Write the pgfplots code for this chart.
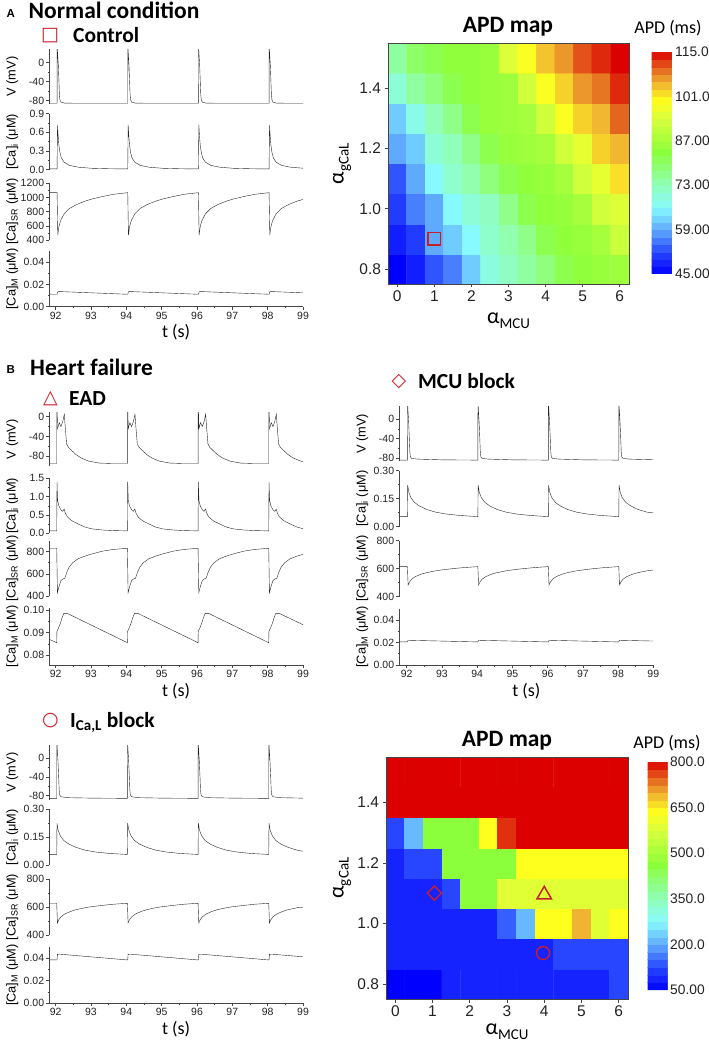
\documentclass[border=0pt]{standalone}
\usepackage{pgfplots}
\pgfplotsset{compat=1.18}
\usepackage{fontspec}
\setmainfont{Liberation Sans}
\newfontfamily\carl{Carlito}
\newfontfamily\dejavu{DejaVu Sans}
\definecolor{mk}{RGB}{200,30,40}
\definecolor{ax}{RGB}{70,70,70}
\definecolor{tk}{RGB}{35,35,35}
\newcommand\tickf{\fontsize{10.5}{12}\selectfont}
\newcommand\labf{\fontsize{12.8}{15}\selectfont}
\newcommand\mapf{\fontsize{15.5}{17}\selectfont}
\newcommand\cbf{\fontsize{13.8}{16}\selectfont}
\newcommand\titf{\carl\bfseries\fontsize{23.5}{26}\selectfont}
\newcommand\subt{\carl\bfseries\fontsize{21.5}{24}\selectfont}
\newcommand\symf{\dejavu\bfseries\fontsize{19}{22}\selectfont}
\newcommand\amcu{{\carl\fontsize{22}{24}\selectfont α\raisebox{-5pt}{\fontsize{15}{16}\selectfont MCU}}}
\newcommand\agcal{{\carl\fontsize{22}{24}\selectfont α\raisebox{-5pt}{\fontsize{15}{16}\selectfont gCaL}}}
\newcommand\tlab{{\carl\fontsize{18}{20}\selectfont t (s)}}

\pgfplotsset{
  colormap={origin}{rgb255(0cm)=(0,0,255) rgb255(1cm)=(40,70,255) rgb255(2cm)=(95,170,255) rgb255(3cm)=(135,250,255) rgb255(4cm)=(145,255,185) rgb255(5.5cm)=(140,255,60) rgb255(7cm)=(215,255,60) rgb255(7.8cm)=(255,255,30) rgb255(8.6cm)=(240,180,50) rgb255(9.3cm)=(228,100,30) rgb255(10cm)=(220,0,0)},
  trace/.style={scale only axis, width=253.7pt, xmin=91.82, xmax=99,
    axis y line*=left, tick align=outside, scaled y ticks=false, scaled x ticks=false,
    major tick length=3pt, minor tick length=1.7pt, minor y tick num=1,
    axis line style={ax, line width=0.7pt}, tick style={ax, line width=0.6pt},
    yticklabel style={font=\tickf, text=tk, inner sep=2pt},
    ylabel style={at={(axis description cs:-0.146,0.5)}, anchor=center, font=\labf},
    cycle list={{black!85, mark=none, line width=1pt}}},
  ttop/.style={axis x line=none},
  tbottom/.style={axis x line*=bottom, xtick={92,93,94,95,96,97,98,99},
    xticklabels={92,93,94,95,96,97,98,99}, minor x tick num=1,
    xticklabel style={font=\tickf, text=tk, inner sep=2pt},
    xlabel={\tlab}, xlabel style={at={(axis description cs:0.5,0)}, anchor=base, yshift=-31pt}},
  map/.style={scale only axis, width=241pt, height=241pt, xmin=-0.25, xmax=6.25, ymin=0.75, ymax=1.55,
    enlargelimits=false, axis on top, tick align=outside, major tick length=3.5pt,
    xtick={0,1,2,3,4,5,6}, xticklabels={0,1,2,3,4,5,6},
    ytick={0.8,1.0,1.2,1.4}, yticklabels={0.8,1.0,1.2,1.4},
    xtick pos=left, ytick pos=left, ticklabel style={font=\mapf, text=tk},
    axis line style={ax, line width=0.6pt}, tick style={ax, line width=0.7pt},
    colormap name=origin,
    xlabel={\amcu}, ylabel={\agcal}}
}

\begin{document}
\begin{tikzpicture}
\path[use as bounding box] (0,0) rectangle (709pt,-1044pt);

% ---------------- Panel A traces ----------------
\begin{axis}[trace, ttop, at={(49.3pt,-49pt)}, anchor=north west, height=55pt, ymin=-87, ymax=28.5,
  ytick={-80,-40,0}, yticklabels={-80,-40,0}, ylabel={V (mV)}]
\addplot coordinates {(91.82,-85.5)
(92.04,-85.5) (92.043,35) (92.055,20) (92.075,-5) (92.09,-35) (92.105,-65) (92.12,-78) (92.15,-83) (92.24,-85) (92.6,-85.5)
(94.04,-85.5) (94.043,35) (94.055,20) (94.075,-5) (94.09,-35) (94.105,-65) (94.12,-78) (94.15,-83) (94.24,-85) (94.6,-85.5)
(96.04,-85.5) (96.043,35) (96.055,20) (96.075,-5) (96.09,-35) (96.105,-65) (96.12,-78) (96.15,-83) (96.24,-85) (96.6,-85.5)
(98.04,-85.5) (98.043,35) (98.055,20) (98.075,-5) (98.09,-35) (98.105,-65) (98.12,-78) (98.15,-83) (98.24,-85) (98.6,-85.5) (99,-85.5)};
\end{axis}

\begin{axis}[trace, ttop, at={(49.3pt,-113.7pt)}, anchor=north west, height=56.3pt, ymin=-0.005, ymax=0.9,
  ytick={0,0.3,0.6,0.9}, yticklabels={0.0,0.3,0.6,0.9}, ylabel={[Ca]\textsubscript{i} (μM)}]
\addplot coordinates {(91.82,0.012)
(92.04,0.012) (92.052,0.72) (92.07,0.55) (92.09,0.4) (92.12,0.28) (92.16,0.19) (92.24,0.12) (92.39,0.07) (92.64,0.04) (93.04,0.022) (93.54,0.015)
(94.04,0.012) (94.052,0.72) (94.07,0.55) (94.09,0.4) (94.12,0.28) (94.16,0.19) (94.24,0.12) (94.39,0.07) (94.64,0.04) (95.04,0.022) (95.54,0.015)
(96.04,0.012) (96.052,0.72) (96.07,0.55) (96.09,0.4) (96.12,0.28) (96.16,0.19) (96.24,0.12) (96.39,0.07) (96.64,0.04) (97.04,0.022) (97.54,0.015)
(98.04,0.012) (98.052,0.72) (98.07,0.55) (98.09,0.4) (98.12,0.28) (98.16,0.19) (98.24,0.12) (98.39,0.07) (98.64,0.04) (99,0.024)};
\end{axis}

\begin{axis}[trace, ttop, at={(49.3pt,-183.3pt)}, anchor=north west, height=56.7pt, ymin=400, ymax=1200,
  ytick={400,600,800,1000,1200}, yticklabels={400,600,800,1000,1200}, ylabel={[Ca]\textsubscript{SR} (μM)}]
\addplot coordinates {(91.82,1068)
(92.04,1068) (92.06,470) (92.09,585) (92.14,675) (92.24,770) (92.39,845) (92.59,900) (92.84,950) (93.04,980) (93.34,1015) (93.64,1045)
(94.04,1068) (94.06,470) (94.09,585) (94.14,675) (94.24,770) (94.39,845) (94.59,900) (94.84,950) (95.04,980) (95.34,1015) (95.64,1045)
(96.04,1068) (96.06,470) (96.09,585) (96.14,675) (96.24,770) (96.39,845) (96.59,900) (96.84,950) (97.04,980) (97.34,1015) (97.64,1045)
(98.04,1068) (98.06,470) (98.09,585) (98.14,675) (98.24,770) (98.39,845) (98.59,900) (98.84,950) (99,972)};
\end{axis}

\begin{axis}[trace, tbottom, at={(49.3pt,-251.2pt)}, anchor=north west, height=55.5pt, ymin=0, ymax=0.05,
  ytick={0,0.02,0.04}, yticklabels={0.00,0.02,0.04}, ylabel={[Ca]\textsubscript{M} (μM)}]
\addplot coordinates {(91.82,0.0113) (92.04,0.0112) (92.06,0.0135) (92.14,0.0136)
(94.04,0.0112) (94.06,0.0135) (94.14,0.0136) (96.04,0.0112) (96.06,0.0135) (96.14,0.0136)
(98.04,0.0112) (98.06,0.0135) (98.14,0.0136) (99,0.0125)};
\end{axis}

% ---------------- Panel A map ----------------
\begin{axis}[map, at={(388pt,-43pt)}, anchor=north west,
  xlabel style={at={(axis description cs:0.5,0)}, anchor=base, yshift=-40pt},
  ylabel style={at={(axis description cs:-0.191,0.5)}, anchor=center},
  point meta min=45, point meta max=115, colorbar sampled,
  colorbar style={at={(parent axis.north east)}, anchor=north west, xshift=14pt, yshift=-9pt,
    scale only axis, width=21pt, height=222pt, samples=31,
    ytick={45,59,73,87,101,115}, yticklabels={45.00,59.00,73.00,87.00,101.0,115.0},
    major tick length=0pt, yticklabel style={font=\cbf, text=tk, inner sep=1pt, xshift=1.5pt},
    axis line style={draw=none}}]
\addplot[matrix plot*, mesh/cols=13, point meta=explicit] coordinates {
(0,0.8) [45] (0.5,0.8) [48] (1,0.8) [53] (1.5,0.8) [56] (2,0.8) [62] (2.5,0.8) [69] (3,0.8) [72] (3.5,0.8) [75] (4,0.8) [78] (4.5,0.8) [82] (5,0.8) [84] (5.5,0.8) [85] (6,0.8) [86]
(0,0.9) [48] (0.5,0.9) [51] (1,0.9) [59] (1.5,0.9) [62] (2,0.9) [66] (2.5,0.9) [71] (3,0.9) [74] (3.5,0.9) [77] (4,0.9) [82] (4.5,0.9) [84] (5,0.9) [85] (5.5,0.9) [87] (6,0.9) [92]
(0,1.0) [51] (0.5,1.0) [56] (1,1.0) [59] (1.5,1.0) [66] (2,1.0) [70] (2.5,1.0) [72] (3,1.0) [77] (3.5,1.0) [82] (4,1.0) [84] (4.5,1.0) [85] (5,1.0) [87] (5.5,1.0) [93] (6,1.0) [95]
(0,1.1) [53] (0.5,1.1) [59] (1,1.1) [66] (1.5,1.1) [71] (2,1.1) [74] (2.5,1.1) [78] (3,1.1) [82] (3.5,1.1) [84] (4,1.1) [85] (4.5,1.1) [87] (5,1.1) [93] (5.5,1.1) [96] (6,1.1) [102]
(0,1.2) [59] (0.5,1.2) [62] (1,1.2) [70] (1.5,1.2) [73] (2,1.2) [77] (2.5,1.2) [82] (3,1.2) [85] (3.5,1.2) [86] (4,1.2) [87] (4.5,1.2) [93] (5,1.2) [96] (5.5,1.2) [103] (6,1.2) [105]
(0,1.3) [62] (0.5,1.3) [68] (1,1.3) [73] (1.5,1.3) [77] (2,1.3) [82] (2.5,1.3) [85] (3,1.3) [86] (3.5,1.3) [87] (4,1.3) [93] (4.5,1.3) [99] (5,1.3) [103] (5.5,1.3) [105] (6,1.3) [110]
(0,1.4) [70] (0.5,1.4) [75] (1,1.4) [78] (1.5,1.4) [82] (2,1.4) [84] (2.5,1.4) [85] (3,1.4) [86] (3.5,1.4) [93] (4,1.4) [99] (4.5,1.4) [103] (5,1.4) [107] (5.5,1.4) [109] (6,1.4) [113]
(0,1.5) [75] (0.5,1.5) [80] (1,1.5) [82] (1.5,1.5) [84] (2,1.5) [84] (2.5,1.5) [85] (3,1.5) [95] (3.5,1.5) [99] (4,1.5) [104] (4.5,1.5) [107] (5,1.5) [111] (5.5,1.5) [113] (6,1.5) [115]
};
\addplot[only marks, mk, mark=square, mark size=6.3pt, mark options={line width=1.4pt}] coordinates {(1,0.9)};
\end{axis}

% ---------------- Panel B EAD ----------------
\begin{axis}[trace, ttop, at={(49.3pt,-412.3pt)}, anchor=north west, height=53.7pt, ymin=-100, ymax=9,
  ytick={-80,-40,0}, yticklabels={-80,-40,0}, ylabel={V (mV)}]
\addplot coordinates {(91.82,-95)
(92.03,-95) (92.033,40) (92.042,10) (92.055,-24) (92.1,-12) (92.15,-20) (92.2,-10) (92.245,5) (92.27,-20) (92.31,-55) (92.36,-62) (92.46,-69) (92.58,-77) (92.73,-84) (92.93,-90) (93.23,-94) (93.63,-95)
(94.03,-95) (94.033,40) (94.042,10) (94.055,-24) (94.1,-12) (94.15,-20) (94.2,-10) (94.245,5) (94.27,-20) (94.31,-55) (94.36,-62) (94.46,-69) (94.58,-77) (94.73,-84) (94.93,-90) (95.23,-94) (95.63,-95)
(96.03,-95) (96.033,40) (96.042,10) (96.055,-24) (96.1,-12) (96.15,-20) (96.2,-10) (96.245,5) (96.27,-20) (96.31,-55) (96.36,-62) (96.46,-69) (96.58,-77) (96.73,-84) (96.93,-90) (97.23,-94) (97.63,-95)
(98.03,-95) (98.033,40) (98.042,10) (98.055,-24) (98.1,-12) (98.15,-20) (98.2,-10) (98.245,5) (98.27,-20) (98.31,-55) (98.36,-62) (98.46,-69) (98.58,-77) (98.73,-84) (98.93,-90) (99,-91)};
\end{axis}

\begin{axis}[trace, ttop, at={(49.3pt,-478.3pt)}, anchor=north west, height=55pt, ymin=0, ymax=1.5,
  ytick={0,0.5,1,1.5}, yticklabels={0.0,0.5,1.0,1.5}, ylabel={[Ca]\textsubscript{i} (μM)}]
\addplot coordinates {(91.82,0.066)
(92.03,0.065) (92.038,1.4) (92.055,0.9) (92.09,0.75) (92.15,0.64) (92.2,0.6) (92.24,0.66) (92.275,0.55) (92.33,0.45) (92.41,0.38) (92.48,0.33) (92.63,0.26) (92.83,0.17) (93.03,0.12) (93.33,0.09) (93.63,0.075)
(94.03,0.065) (94.038,1.4) (94.055,0.9) (94.09,0.75) (94.15,0.64) (94.2,0.6) (94.24,0.66) (94.275,0.55) (94.33,0.45) (94.41,0.38) (94.48,0.33) (94.63,0.26) (94.83,0.17) (95.03,0.12) (95.33,0.09) (95.63,0.075)
(96.03,0.065) (96.038,1.4) (96.055,0.9) (96.09,0.75) (96.15,0.64) (96.2,0.6) (96.24,0.66) (96.275,0.55) (96.33,0.45) (96.41,0.38) (96.48,0.33) (96.63,0.26) (96.83,0.17) (97.03,0.12) (97.33,0.09) (97.63,0.075)
(98.03,0.065) (98.038,1.4) (98.055,0.9) (98.09,0.75) (98.15,0.64) (98.2,0.6) (98.24,0.66) (98.275,0.55) (98.33,0.45) (98.41,0.38) (98.48,0.33) (98.63,0.26) (98.83,0.17) (99,0.125)};
\end{axis}

\begin{axis}[trace, ttop, at={(49.3pt,-540.7pt)}, anchor=north west, height=55.3pt, ymin=400, ymax=899,
  ytick={400,600,800}, yticklabels={400,600,800}, ylabel={[Ca]\textsubscript{SR} (μM)}]
\addplot coordinates {(91.82,831)
(92.03,831) (92.05,430) (92.09,480) (92.15,540) (92.21,555) (92.26,560) (92.31,610) (92.38,660) (92.48,700) (92.63,735) (92.83,760) (93.03,780) (93.33,805) (93.63,820)
(94.03,831) (94.05,430) (94.09,480) (94.15,540) (94.21,555) (94.26,560) (94.31,610) (94.38,660) (94.48,700) (94.63,735) (94.83,760) (95.03,780) (95.33,805) (95.63,820)
(96.03,831) (96.05,430) (96.09,480) (96.15,540) (96.21,555) (96.26,560) (96.31,610) (96.38,660) (96.48,700) (96.63,735) (96.83,760) (97.03,780) (97.33,805) (97.63,820)
(98.03,831) (98.05,430) (98.09,480) (98.15,540) (98.21,555) (98.26,560) (98.31,610) (98.38,660) (98.48,700) (98.63,735) (98.83,760) (99,776)};
\end{axis}

\begin{axis}[trace, tbottom, at={(49.3pt,-608pt)}, anchor=north west, height=57pt, ymin=0.0756, ymax=0.1009,
  ytick={0.08,0.09,0.1}, yticklabels={0.08,0.09,0.10}, ylabel={[Ca]\textsubscript{M} (μM)}]
\addplot coordinates {(91.82,0.087)
(92.03,0.0855) (92.035,0.0905) (92.08,0.092) (92.13,0.094) (92.18,0.0965) (92.23,0.0985) (92.33,0.0985)
(94.03,0.0855) (94.035,0.0905) (94.08,0.092) (94.13,0.094) (94.18,0.0965) (94.23,0.0985) (94.33,0.0985)
(96.03,0.0855) (96.035,0.0905) (96.08,0.092) (96.13,0.094) (96.18,0.0965) (96.23,0.0985) (96.33,0.0985)
(98.03,0.0855) (98.035,0.0905) (98.08,0.092) (98.13,0.094) (98.18,0.0965) (98.23,0.0985) (98.33,0.0985) (99,0.0935)};
\end{axis}

% ---------------- Panel B MCU block ----------------
\begin{axis}[trace, ttop, width=254pt, xmin=91.79, at={(399.3pt,-406pt)}, anchor=north west, height=55.3pt, ymin=-87, ymax=27.5,
  ytick={-80,-40,0}, yticklabels={-80,-40,0}, ylabel={V (mV)}]
\addplot coordinates {(91.79,-84.5)
(92.02,-84.5) (92.023,40) (92.035,20) (92.055,-5) (92.075,-40) (92.09,-68) (92.105,-78) (92.14,-81) (92.32,-82.5) (93.02,-84)
(94.02,-84.5) (94.023,40) (94.035,20) (94.055,-5) (94.075,-40) (94.09,-68) (94.105,-78) (94.14,-81) (94.32,-82.5) (95.02,-84)
(96.02,-84.5) (96.023,40) (96.035,20) (96.055,-5) (96.075,-40) (96.09,-68) (96.105,-78) (96.14,-81) (96.32,-82.5) (97.02,-84)
(98.02,-84.5) (98.023,40) (98.035,20) (98.055,-5) (98.075,-40) (98.09,-68) (98.105,-78) (98.14,-81) (98.32,-82.5) (99,-83.8)};
\end{axis}

\begin{axis}[trace, ttop, width=254pt, xmin=91.79, at={(399.3pt,-470.7pt)}, anchor=north west, height=56pt, ymin=0, ymax=0.3,
  ytick={0,0.15,0.3}, yticklabels={0.00,0.15,0.30}, ylabel={[Ca]\textsubscript{i} (μM)}]
\addplot coordinates {(91.79,0.054)
(92.02,0.054) (92.028,0.222) (92.06,0.185) (92.12,0.155) (92.22,0.13) (92.37,0.11) (92.57,0.092) (92.82,0.078) (93.12,0.068) (93.52,0.06)
(94.02,0.054) (94.028,0.222) (94.06,0.185) (94.12,0.155) (94.22,0.13) (94.37,0.11) (94.57,0.092) (94.82,0.078) (95.12,0.068) (95.52,0.06)
(96.02,0.054) (96.028,0.222) (96.06,0.185) (96.12,0.155) (96.22,0.13) (96.37,0.11) (96.57,0.092) (96.82,0.078) (97.12,0.068) (97.52,0.06)
(98.02,0.054) (98.028,0.222) (98.06,0.185) (98.12,0.155) (98.22,0.13) (98.37,0.11) (98.57,0.092) (98.82,0.078) (99,0.074)};
\end{axis}

\begin{axis}[trace, ttop, width=254pt, xmin=91.79, at={(399.3pt,-540.7pt)}, anchor=north west, height=56pt, ymin=400, ymax=800,
  ytick={400,600,800}, yticklabels={400,600,800}, ylabel={[Ca]\textsubscript{SR} (μM)}]
\addplot coordinates {(91.79,615)
(92.02,615) (92.04,484) (92.08,505) (92.14,525) (92.24,543) (92.42,562) (92.57,572) (92.82,585) (93.02,592) (93.32,601) (93.62,608)
(94.02,615) (94.04,484) (94.08,505) (94.14,525) (94.24,543) (94.42,562) (94.57,572) (94.82,585) (95.02,592) (95.32,601) (95.62,608)
(96.02,615) (96.04,484) (96.08,505) (96.14,525) (96.24,543) (96.42,562) (96.57,572) (96.82,585) (97.02,592) (97.32,601) (97.62,608)
(98.02,615) (98.04,484) (98.08,505) (98.14,525) (98.24,543) (98.42,562) (98.57,572) (98.82,585) (99,591)};
\end{axis}

\begin{axis}[trace, tbottom, width=254pt, xmin=91.79, at={(399.3pt,-608.75pt)}, anchor=north west, height=56.25pt, ymin=0, ymax=0.05,
  ytick={0,0.02,0.04}, yticklabels={0.00,0.02,0.04}, ylabel={[Ca]\textsubscript{M} (μM)}]
\addplot coordinates {(91.79,0.0206) (92.02,0.0205) (92.04,0.022) (94.02,0.0205) (94.04,0.022)
(96.02,0.0205) (96.04,0.022) (98.02,0.0205) (98.04,0.022) (99,0.0213)};
\end{axis}

% ---------------- Panel B ICaL block ----------------
\begin{axis}[trace, ttop, at={(49.3pt,-745pt)}, anchor=north west, height=55pt, ymin=-89, ymax=28.4,
  ytick={-80,-40,0}, yticklabels={-80,-40,0}, ylabel={V (mV)}]
\addplot coordinates {(91.82,-85.5)
(92.03,-85.5) (92.033,40) (92.045,20) (92.065,-5) (92.085,-40) (92.1,-68) (92.115,-78) (92.15,-82) (92.33,-84) (93.03,-85)
(94.03,-85.5) (94.033,40) (94.045,20) (94.065,-5) (94.085,-40) (94.1,-68) (94.115,-78) (94.15,-82) (94.33,-84) (95.03,-85)
(96.03,-85.5) (96.033,40) (96.045,20) (96.065,-5) (96.085,-40) (96.1,-68) (96.115,-78) (96.15,-82) (96.33,-84) (97.03,-85)
(98.03,-85.5) (98.033,40) (98.045,20) (98.065,-5) (98.085,-40) (98.1,-68) (98.115,-78) (98.15,-82) (98.33,-84) (99,-85)};
\end{axis}

\begin{axis}[trace, ttop, at={(49.3pt,-809.3pt)}, anchor=north west, height=55.7pt, ymin=0, ymax=0.3,
  ytick={0,0.15,0.3}, yticklabels={0.00,0.15,0.30}, ylabel={[Ca]\textsubscript{i} (μM)}]
\addplot coordinates {(91.82,0.057)
(92.03,0.057) (92.038,0.225) (92.07,0.188) (92.13,0.158) (92.23,0.132) (92.38,0.112) (92.58,0.095) (92.83,0.08) (93.13,0.07) (93.53,0.062)
(94.03,0.057) (94.038,0.225) (94.07,0.188) (94.13,0.158) (94.23,0.132) (94.38,0.112) (94.58,0.095) (94.83,0.08) (95.13,0.07) (95.53,0.062)
(96.03,0.057) (96.038,0.225) (96.07,0.188) (96.13,0.158) (96.23,0.132) (96.38,0.112) (96.58,0.095) (96.83,0.08) (97.13,0.07) (97.53,0.062)
(98.03,0.057) (98.038,0.225) (98.07,0.188) (98.13,0.158) (98.23,0.132) (98.38,0.112) (98.58,0.095) (98.83,0.08) (99,0.074)};
\end{axis}

\begin{axis}[trace, ttop, at={(49.3pt,-879.3pt)}, anchor=north west, height=55.7pt, ymin=400, ymax=800,
  ytick={400,600,800}, yticklabels={400,600,800}, ylabel={[Ca]\textsubscript{SR} (μM)}]
\addplot coordinates {(91.82,628)
(92.03,628) (92.05,487) (92.09,510) (92.15,530) (92.25,550) (92.43,570) (92.58,582) (92.83,596) (93.03,604) (93.33,613) (93.63,621)
(94.03,628) (94.05,487) (94.09,510) (94.15,530) (94.25,550) (94.43,570) (94.58,582) (94.83,596) (95.03,604) (95.33,613) (95.63,621)
(96.03,628) (96.05,487) (96.09,510) (96.15,530) (96.25,550) (96.43,570) (96.58,582) (96.83,596) (97.03,604) (97.33,613) (97.63,621)
(98.03,628) (98.05,487) (98.09,510) (98.15,530) (98.25,550) (98.43,570) (98.58,582) (98.83,596) (99,600)};
\end{axis}

\begin{axis}[trace, tbottom, at={(49.3pt,-947pt)}, anchor=north west, height=56.3pt, ymin=0, ymax=0.05,
  ytick={0,0.02,0.04}, yticklabels={0.00,0.02,0.04}, ylabel={[Ca]\textsubscript{M} (μM)}]
\addplot coordinates {(91.82,0.0386)
(92.03,0.0385) (92.04,0.0388) (92.05,0.0435) (92.13,0.0436)
(94.03,0.0385) (94.04,0.0388) (94.05,0.0435) (94.13,0.0436)
(96.03,0.0385) (96.04,0.0388) (96.05,0.0435) (96.13,0.0436)
(98.03,0.0385) (98.04,0.0388) (98.05,0.0435) (98.13,0.0436) (99,0.0413)};
\end{axis}

% ---------------- Panel B map ----------------
\begin{axis}[map, at={(386pt,-757pt)}, anchor=north west, width=242pt, height=242pt,
  xlabel style={at={(axis description cs:0.5,0)}, anchor=base, yshift=-35.5pt},
  ylabel style={at={(axis description cs:-0.182,0.5)}, anchor=center},
  point meta min=50, point meta max=800, colorbar sampled,
  colorbar style={at={(parent axis.north east)}, anchor=north west, xshift=11pt, yshift=-5pt,
    scale only axis, width=20pt, height=228pt, samples=31,
    ytick={50,200,350,500,650,800}, yticklabels={50.00,200.0,350.0,500.0,650.0,800.0},
    major tick length=0pt, yticklabel style={font=\cbf, text=tk, inner sep=1pt, xshift=1.5pt},
    axis line style={draw=none}}]
\addplot[matrix plot*, mesh/cols=13, point meta=explicit] coordinates {
(0,0.8) [50] (0.5,0.8) [50] (1,0.8) [50] (1.5,0.8) [88] (2,0.8) [88] (2.5,0.8) [88] (3,0.8) [88] (3.5,0.8) [88] (4,0.8) [88] (4.5,0.8) [88] (5,0.8) [88] (5.5,0.8) [88] (6,0.8) [125]
(0,0.9) [88] (0.5,0.9) [88] (1,0.9) [88] (1.5,0.9) [88] (2,0.9) [88] (2.5,0.9) [88] (3,0.9) [88] (3.5,0.9) [88] (4,0.9) [88] (4.5,0.9) [125] (5,0.9) [125] (5.5,0.9) [125] (6,0.9) [125]
(0,1.0) [88] (0.5,1.0) [88] (1,1.0) [88] (1.5,1.0) [88] (2,1.0) [88] (2.5,1.0) [88] (3,1.0) [144] (3.5,1.0) [215] (4,1.0) [635] (4.5,1.0) [635] (5,1.0) [695] (5.5,1.0) [590] (6,1.0) [635]
(0,1.1) [88] (0.5,1.1) [88] (1,1.1) [88] (1.5,1.1) [125] (2,1.1) [462] (2.5,1.1) [462] (3,1.1) [590] (3.5,1.1) [590] (4,1.1) [590] (4.5,1.1) [590] (5,1.1) [590] (5.5,1.1) [590] (6,1.1) [590]
(0,1.2) [88] (0.5,1.2) [125] (1,1.2) [125] (1.5,1.2) [462] (2,1.2) [462] (2.5,1.2) [462] (3,1.2) [462] (3.5,1.2) [635] (4,1.2) [635] (4.5,1.2) [635] (5,1.2) [635] (5.5,1.2) [635] (6,1.2) [635]
(0,1.3) [125] (0.5,1.3) [215] (1,1.3) [462] (1.5,1.3) [462] (2,1.3) [462] (2.5,1.3) [635] (3,1.3) [775] (3.5,1.3) [800] (4,1.3) [800] (4.5,1.3) [800] (5,1.3) [800] (5.5,1.3) [800] (6,1.3) [800]
(0,1.4) [800] (0.5,1.4) [800] (1,1.4) [800] (1.5,1.4) [800] (2,1.4) [800] (2.5,1.4) [800] (3,1.4) [800] (3.5,1.4) [800] (4,1.4) [800] (4.5,1.4) [800] (5,1.4) [800] (5.5,1.4) [800] (6,1.4) [800]
(0,1.5) [800] (0.5,1.5) [800] (1,1.5) [800] (1.5,1.5) [800] (2,1.5) [800] (2.5,1.5) [800] (3,1.5) [800] (3.5,1.5) [800] (4,1.5) [800] (4.5,1.5) [800] (5,1.5) [800] (5.5,1.5) [800] (6,1.5) [800]
};
\addplot[only marks, mk, mark=square, mark size=5pt, mark options={line width=1.4pt, rotate=45}] coordinates {(1.05,1.1)};
\addplot[only marks, mk, mark=triangle, mark size=8.3pt, mark options={line width=1.5pt}] coordinates {(4,1.095)};
\addplot[only marks, mk, mark=o, mark size=6.5pt, mark options={line width=1.4pt}] coordinates {(3.97,0.902)};
\end{axis}

% ---------------- Text ----------------
\node[anchor=base west, inner sep=0pt, font=\bfseries\fontsize{11.5}{12}\selectfont] at (6.5pt,-17pt) {A};
\node[anchor=base west, inner sep=0pt, font=\titf] at (28.5pt,-18.3pt) {Normal condition};
\node[anchor=center, inner sep=0pt, font=\symf, text=mk] at (50.2pt,-36pt) {□};
\node[anchor=base west, inner sep=0pt, font=\subt] at (73pt,-42.7pt) {Control};
\node[anchor=base, inner sep=0pt, font=\titf] at (508pt,-32.3pt) {APD map};
\node[anchor=base, inner sep=0pt, font=\carl\fontsize{18}{20}\selectfont] at (668pt,-33pt) {APD (ms)};

\node[anchor=base west, inner sep=0pt, font=\bfseries\fontsize{11.5}{12}\selectfont] at (6.5pt,-373pt) {B};
\node[anchor=base west, inner sep=0pt, font=\titf] at (30pt,-375pt) {Heart failure};
\node[anchor=center, inner sep=0pt, font=\symf, text=mk] at (50.5pt,-399pt) {△};
\node[anchor=base west, inner sep=0pt, font=\subt] at (69pt,-405.7pt) {EAD};
\node[anchor=center, inner sep=0pt, font=\symf, text=mk] at (399pt,-381.5pt) {◇};
\node[anchor=base west, inner sep=0pt, font=\subt] at (418pt,-388.3pt) {MCU block};
\node[anchor=center, inner sep=0pt, font=\symf, text=mk] at (50.5pt,-720.5pt) {○};
\node[anchor=base west, inner sep=0pt, font=\subt] at (70pt,-727pt) {I\textsubscript{Ca,L} block};
\node[anchor=base, inner sep=0pt, font=\titf] at (507pt,-746.7pt) {APD map};
\node[anchor=base, inner sep=0pt, font=\carl\fontsize{18}{20}\selectfont] at (667pt,-748pt) {APD (ms)};
\end{tikzpicture}
\end{document}
